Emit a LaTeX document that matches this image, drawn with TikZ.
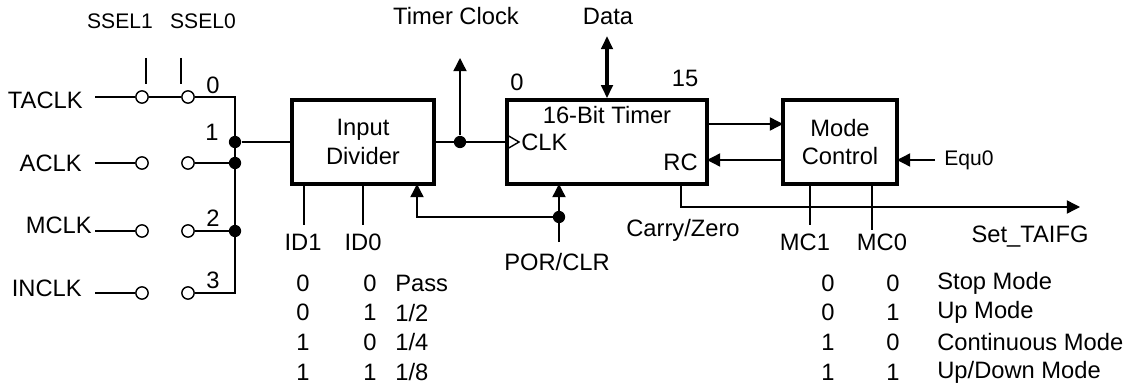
\documentclass[tikz,border=0pt]{standalone}
\usepackage{fontspec}
\setmainfont{Liberation Sans}
\usetikzlibrary{arrows.meta}

\tikzset{
  blk/.style={draw, line width=2pt, inner sep=0pt, align=center,
    minimum height=1.68cm, font=\fontsize{13.5}{16}\selectfont},
  sw/.style={circle, draw, fill=white, inner sep=0pt, minimum size=7pt, line width=0.8pt},
  jdot/.style={circle, fill=black, inner sep=0pt, minimum size=7pt},
  wire/.style={line width=0.8pt},
  tip/.style={-{Triangle[length=7.5pt,width=7.5pt]}},
  lbl/.style={font=\fontsize{13.5}{15}\selectfont, inner sep=0pt},
  sml/.style={font=\fontsize{12}{14}\selectfont, inner sep=0pt},
}

\begin{document}
\begin{tikzpicture}[x=0.02cm, y=-0.02cm]
\useasboundingbox (0,0) rectangle (1133,385);

% Clock source select
\node[lbl, anchor=east] (taclk) at (83,100) {TACLK};
\node[lbl, anchor=east] (aclk) at (82,163) {ACLK};
\node[lbl, anchor=east] (mclk) at (92,225) {MCLK};
\node[lbl, anchor=east] (inclk) at (82,288) {INCLK};

\node[sml] (ssel1) at (120,21) {SSEL1};
\node[sml] (ssel0) at (203,21) {SSEL0};
\draw[wire] (146,58) -- (146,84);
\draw[wire] (181,58) -- (181,84);

% switch contacts, one row per source
\foreach \y/\n in {97/a,163/b,231/c,293/d} {
  \node[sw] (s1\n) at (142,\y) {};
  \node[sw] (s0\n) at (188,\y) {};
  \draw[wire] (95,\y) -- (s1\n.west);
}
\draw[wire] (s1a) -- (s0a);

% mux bus
\draw[wire] (s0a.east) -- (235,97) -- (235,293) -- (s0d.east);
\draw[wire] (s0b.east) -- (235,163);
\draw[wire] (s0c.east) -- (235,231);
\node[jdot] (j1) at (235,142) {};
\node[jdot] (jb) at (235,163) {};
\node[jdot] (jc) at (235,231) {};

\node[lbl] (n0) at (213,85) {0};
\node[lbl] (n1) at (212,132) {1};
\node[lbl] (n2) at (213,218) {2};
\node[lbl] (n3) at (213,280) {3};

% blocks
\node[blk, minimum width=2.84cm] (div) at (363,142) {Input\\Divider};
\node[blk, minimum width=4cm] (tmr) at (607,142) {};
\node[blk, minimum width=2.28cm] (mode) at (840,142) {Mode\\Control};

\node[lbl] (bits) at (607,115) {16-Bit Timer};
\node[lbl, anchor=west] (clk) at (521,142) {CLK};
\node[lbl, anchor=east] (rc) at (698,162) {RC};
\draw[wire] (507,135) -- (519,142) -- (507,149);
\node[lbl] (b0) at (517,82) {0};
\node[lbl] (b15) at (685,78) {15};

\draw[wire] (j1) -- (div.west);

% timer clock
\node[jdot] (tc) at (460,142) {};
\draw[wire] (div.east) -- (tmr.west);
\draw[wire, tip] (tc) -- (460,58);
\node[lbl] (tclk) at (456,16) {Timer Clock};

% data bus
\draw[line width=2.2pt, {Triangle[length=7.5pt,width=6.5pt]}-{Triangle[length=7.5pt,width=6.5pt]}]
  (607,36) -- (tmr.north);
\node[lbl] (data) at (608,16) {Data};

% divider select
\draw[wire] (304,184) -- (304,225);
\draw[wire] (363,184) -- (363,225);
\node[lbl] (id1) at (303,242) {ID1};
\node[lbl] (id0) at (363,242) {ID0};

% reset
\node[jdot] (por) at (559,217) {};
\draw[wire, tip] (559,242) -- (559,184);
\draw[wire, tip] (por) -| (417,184);
\node[lbl] (porclr) at (557,262) {POR/CLR};

% timer <-> mode control
\draw[wire, tip] (707,124) -- (783,124);
\draw[wire, tip] (783,160) -- (707,160);
\draw[wire, tip] (935,160) -- (897,160);
\node[sml, anchor=west] (equ) at (944,160) {Equ0};

% carry out
\draw[wire, tip] (681,184) -- (681,207) -- (1080,207);
\node[lbl] (carry) at (683,230) {Carry/Zero};
\node[lbl] (taifg) at (1030,237) {Set\_TAIFG};

% mode select
\draw[wire] (810,184) -- (810,225);
\draw[wire] (872,184) -- (872,230);
\node[lbl] (mc1) at (805,242) {MC1};
\node[lbl] (mc0) at (882,242) {MC0};

% tables
\foreach \a/\b/\t [count=\i from 0] in {0/0/Pass, 0/1/{1/2}, 1/0/{1/4}, 1/1/{1/8}} {
  \node[lbl] at (303,{283+29.7*\i}) {\a};
  \node[lbl] at (370,{283+29.7*\i}) {\b};
  \node[lbl, anchor=west] at (395,{283+29.7*\i}) {\t};
}
\foreach \a/\b/\t [count=\i from 0] in {0/0/Stop Mode, 0/1/Up Mode, 1/0/Continuous Mode, 1/1/{Up/Down Mode}} {
  \node[lbl] at (828,{283+29.7*\i}) {\a};
  \node[lbl] at (893,{283+29.7*\i}) {\b};
  \node[lbl, anchor=west] at (937,{283+29.7*\i}) {\t};
}

\end{tikzpicture}
\end{document}
